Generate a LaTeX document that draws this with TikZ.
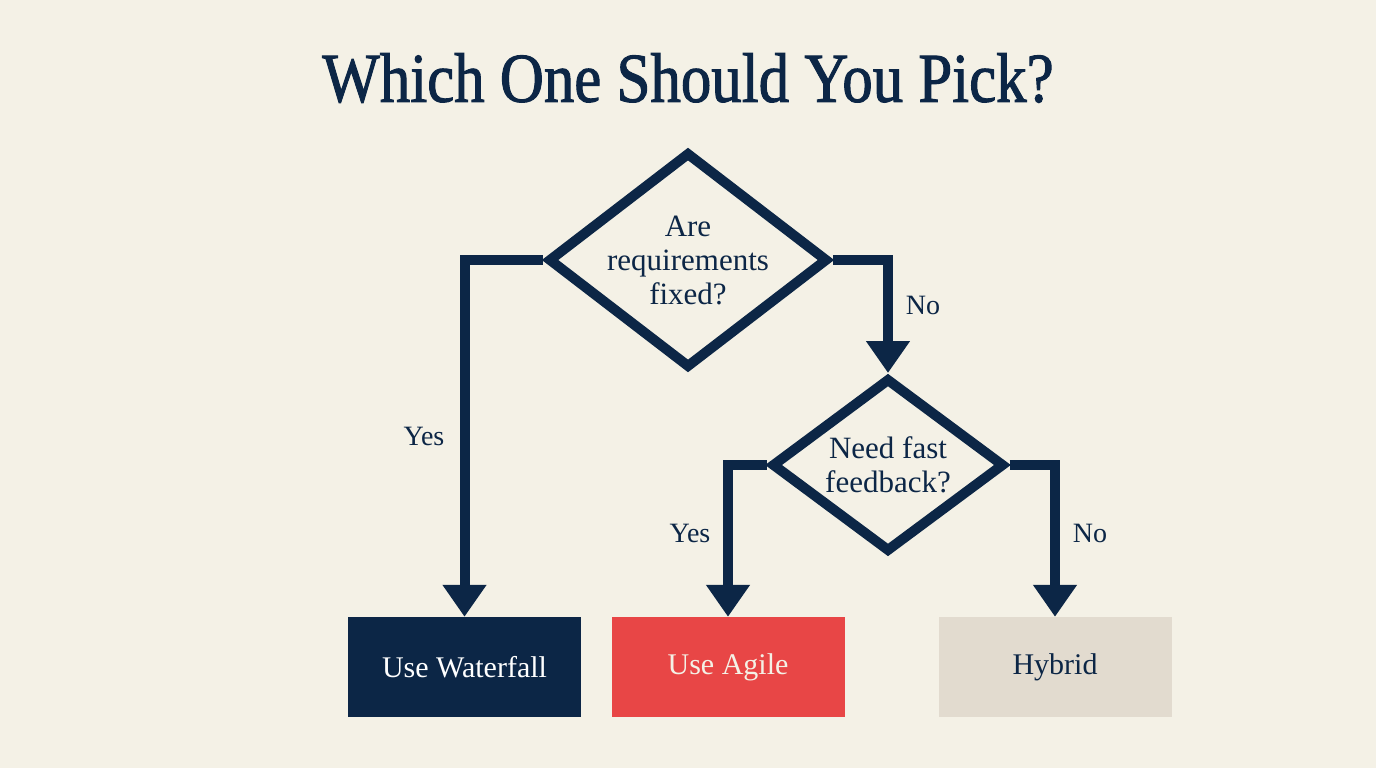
\documentclass[tikz,border=0pt]{standalone}
\usepackage{fontspec}
\setmainfont{Liberation Serif}
\newfontfamily\titlefont[FakeBold=1.6]{Liberation Serif}
\usetikzlibrary{shapes, arrows.meta, positioning}

\definecolor{navy}{HTML}{0C2646}
\definecolor{paper}{HTML}{F4F1E6}
\definecolor{agilered}{HTML}{E84646}
\definecolor{hybridgray}{HTML}{E2DBCF}

\begin{document}
\begin{tikzpicture}[x=1pt, y=-1pt,
    decision/.style={diamond, aspect=1.3, draw=navy, line width=10pt, fill=paper, inner sep=-45pt,
        align=center, text=navy, font=\fontsize{31}{34}\selectfont},
    outcome/.style={rectangle, minimum width=233pt, minimum height=100pt, inner sep=0pt,
        font=\fontsize{30}{34}\selectfont},
    flow/.style={draw=navy, line width=10pt, -{Triangle[width=42pt,length=32pt]}},
    answer/.style={text=navy, font=\fontsize{28}{32}\selectfont}]

    % Hintergrund
    \useasboundingbox (0,0) rectangle (1376,768);
    \fill[paper] (0,0) rectangle (1376,768);

    % Titel
    \node[text=navy, font=\fontsize{70}{80}\titlefont] (title) at (688,78)
        {\scalebox{0.87}[1]{Which One Should You Pick?}};

    % Entscheidungen
    \node[decision, minimum width=280pt, minimum height=216pt] (fixed) at (688,260)
        {Are\\requirements\\fixed?};
    \node[decision, minimum width=233pt, minimum height=174pt] (feedback) at (888,465)
        {Need fast\\feedback?};

    % Ergebnisse
    \node[outcome, fill=navy, text=white] (waterfall) at (464.5,667) {Use Waterfall};
    \node[outcome, fill=agilered, text=paper] (agile) at (728,667) {Use Agile};
    \node[outcome, fill=hybridgray, text=navy] (hybrid) at (1055,667) {Hybrid};

    % Pfeile
    \draw[flow] (fixed.west) -| (waterfall.north);
    \draw[flow] (fixed.east) -| (feedback.north);
    \draw[flow] (feedback.west) -| (agile.north);
    \draw[flow] (feedback.east) -| (hybrid.north);

    % Beschriftungen
    \node[answer] (yesfixed) at (424,436) {Yes};
    \node[answer] (nofixed) at (923,305) {No};
    \node[answer] (yesfast) at (690,533) {Yes};
    \node[answer] (nofast) at (1090,533) {No};

\end{tikzpicture}
\end{document}
